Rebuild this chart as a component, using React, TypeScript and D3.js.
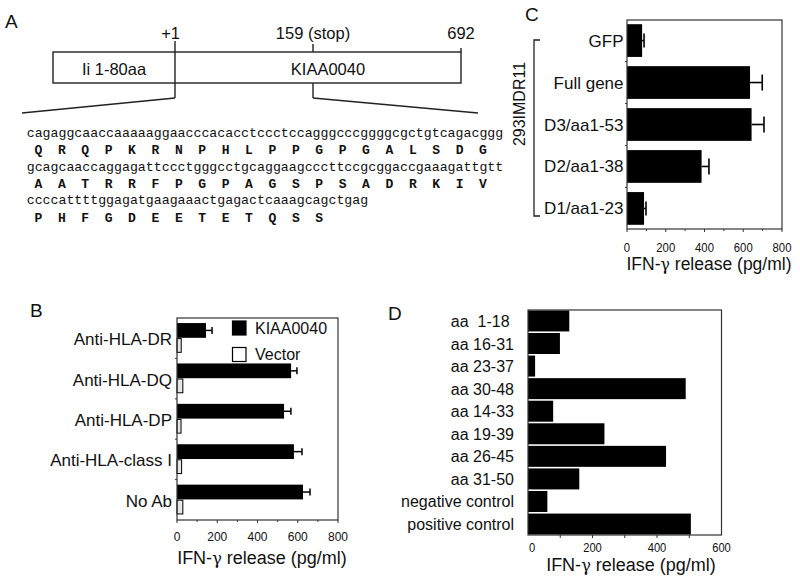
import React from "react";
import * as d3 from "d3";

const W = 800;
const H = 580;
const SANS = "'Liberation Sans', Arial, sans-serif";
const MONO = "'Liberation Mono', 'Courier New', monospace";

// ---------- Panel A data ----------
const schematicDomain = [-79, 1, 159, 692];
const schematicMarks = [
  { pos: 1, label: "+1" },
  { pos: 159, label: "159 (stop)" },
  { pos: 692, label: "692" },
];
const schematicSegments = [
  { from: -79, to: 1, label: "Ii 1-80aa" },
  { from: 1, to: 692, label: "KIAA0040" },
];
const dnaLines = [
  "cagaggcaaccaaaaaggaacccacacctccctccagggcccggggcgctgtcagacggg",
  "gcagcaaccaggagattccctgggcctgcaggaagcccttccgcggaccgaaagattgtt",
  "ccccattttggagatgaagaaactgagactcaaagcagctgag",
];
const aaLines = [
  ["Q", "R", "Q", "P", "K", "R", "N", "P", "H", "L", "P", "P", "G", "P", "G", "A", "L", "S", "D", "G"],
  ["A", "A", "T", "R", "R", "F", "P", "G", "P", "A", "G", "S", "P", "S", "A", "D", "R", "K", "I", "V"],
  ["P", "H", "F", "G", "D", "E", "E", "T", "E", "T", "Q", "S", "S"],
];

// ---------- Panel B data ----------
const bCategories = ["Anti-HLA-DR", "Anti-HLA-DQ", "Anti-HLA-DP", "Anti-HLA-class I", "No Ab"];
const bSeries = ["KIAA0040", "Vector"];
const bKIAA = [144, 567, 532, 581, 626];
const bKIAAErr = [30, 29, 34, 40, 35];
const bVector = [21, 29, 20, 23, 29];
const bTicks = [0, 200, 400, 600, 800];
const bMinorTicks = [0, 100, 200, 300, 400, 500, 600, 700, 800];

// ---------- Panel C data ----------
const cCategories = ["GFP", "Full gene", "D3/aa1-53", "D2/aa1-38", "D1/aa1-23"];
const cValues = [78, 635, 643, 385, 88];
const cErr = [10, 63, 64, 38, 10];
const cTicks = [0, 200, 400, 600, 800];
const cMinorTicks = [0, 100, 200, 300, 400, 500, 600, 700, 800];
const cGroupLabel = "293IMDR11";

// ---------- Panel D data ----------
const dCategories = [
  "aa  1-18 ",
  "aa 16-31",
  "aa 23-37",
  "aa 30-48",
  "aa 14-33",
  "aa 19-39",
  "aa 26-45",
  "aa 31-50",
  "negative control",
  "positive control",
];
const dValues = [128, 99, 22, 489, 78, 237, 428, 159, 60, 505];
const dTicks = [0, 200, 400, 600];
const dMinorTicks = [100, 200, 300, 400, 500];

function AxisTitle({ x, y, size }: { x: number; y: number; size: number }) {
  return (
    <text x={x} y={y} fontSize={size} textAnchor="middle" fontFamily={SANS} fill="#111">
      IFN-<tspan fontFamily="'DejaVu Serif', serif" fontSize={size * 0.9}>γ</tspan> release (pg/ml)
    </text>
  );
}

function PanelA() {
  const xs = d3.scaleLinear().domain(schematicDomain).range([53, 175, 313, 461]);
  const boxTop = 52;
  const boxBot = 83;
  const seqX0 = 26.7;
  const dnaSize = 13.24;
  const aaSize = 13.0;
  const aaAdv = aaSize * 0.6;
  const dnaBase = [136.5, 170.5, 204];
  const aaBase = [154, 188, 221.5];
  return (
    <g>
      <text x={5} y={28} fontSize={19} fontFamily={SANS} fill="#111">A</text>
      <rect x={xs(-79)} y={boxTop} width={xs(692) - xs(-79)} height={boxBot - boxTop} fill="none" stroke="#222" strokeWidth={1.4} />
      {schematicSegments.map((s) => (
        <text key={s.label} x={(xs(s.from) + xs(s.to)) / 2 + (s.from < 0 ? 0 : 10)} y={75} fontSize={16.5} textAnchor="middle" fontFamily={SANS} fill="#111">
          {s.label}
        </text>
      ))}
      <line x1={xs(1)} x2={xs(1)} y1={41} y2={98} stroke="#222" strokeWidth={1.4} />
      <line x1={xs(159)} x2={xs(159)} y1={44} y2={boxTop} stroke="#222" strokeWidth={1.4} />
      <line x1={xs(159)} x2={xs(159)} y1={boxBot} y2={98} stroke="#222" strokeWidth={1.4} />
      <line x1={xs(692)} x2={xs(692)} y1={48} y2={boxTop} stroke="#222" strokeWidth={1.4} />
      <line x1={xs(1)} y1={98} x2={22} y2={113} stroke="#222" strokeWidth={1.4} />
      <line x1={xs(159)} y1={98} x2={478} y2={113} stroke="#222" strokeWidth={1.4} />
      {schematicMarks.map((m) => (
        <text
          key={m.label}
          x={m.pos === 1 ? xs(m.pos) + 5 : xs(m.pos)}
          y={39}
          fontSize={16.5}
          textAnchor={m.pos === 1 ? "end" : "middle"}
          fontFamily={SANS}
          fill="#111"
        >
          {m.label}
        </text>
      ))}
      {dnaLines.map((line, i) => (
        <text key={"dna" + i} x={seqX0} y={dnaBase[i]} fontSize={dnaSize} fontFamily={MONO} fill="#111">
          {line}
        </text>
      ))}
      {aaLines.map((line, i) => (
        <g key={"aa" + i}>
          {line.map((aa, k) => (
            <text
              key={k}
              x={seqX0 + (3 * k + 1.5) * aaAdv}
              y={aaBase[i]}
              fontSize={aaSize}
              fontWeight="bold"
              textAnchor="middle"
              fontFamily={MONO}
              fill="#111"
            >
              {aa}
            </text>
          ))}
        </g>
      ))}
    </g>
  );
}

function PanelB() {
  const x = d3.scaleLinear().domain([0, 800]).range([177, 338]);
  const y = d3.scaleBand<string>().domain(bCategories).range([318, 520]).paddingInner(0.25).paddingOuter(0.125);
  const sub = d3.scaleBand<string>().domain(bSeries).range([0, y.bandwidth()]).paddingInner(0.05);
  const top = 318;
  const bot = 520;
  const boundaries = bCategories.slice(1).map((c) => (y(c) as number) - (y.step() - y.bandwidth()) / 2);
  return (
    <g>
      <text x={30} y={317} fontSize={19} fontFamily={SANS} fill="#111">B</text>
      {bCategories.map((c, i) => {
        const y0 = y(c) as number;
        const yk = y0 + (sub("KIAA0040") as number);
        const yv = y0 + (sub("Vector") as number);
        const bh = sub.bandwidth();
        const ey = yk + bh / 2;
        return (
          <g key={c}>
            <rect x={x(0)} y={yk} width={x(bKIAA[i]) - x(0)} height={bh} fill="#000" />
            <line x1={x(bKIAA[i])} x2={x(bKIAA[i] + bKIAAErr[i])} y1={ey} y2={ey} stroke="#000" strokeWidth={1.5} />
            <line x1={x(bKIAA[i] + bKIAAErr[i])} x2={x(bKIAA[i] + bKIAAErr[i])} y1={ey - 3.5} y2={ey + 3.5} stroke="#000" strokeWidth={1.5} />
            <rect x={x(0)} y={yv} width={x(bVector[i]) - x(0)} height={bh - 1} fill="#e6e6e6" stroke="#000" strokeWidth={1} />
            <text x={172} y={y0 + y.bandwidth() / 2 + 7} fontSize={17} textAnchor="end" fontFamily={SANS} fill="#111">
              {c}
            </text>
          </g>
        );
      })}
      <rect x={x(0)} y={top} width={x(800) - x(0)} height={bot - top} fill="none" stroke="#333" strokeWidth={1.2} />
      {boundaries.map((b, i) => (
        <line key={i} x1={x(0) - 2} x2={x(0)} y1={b} y2={b} stroke="#333" strokeWidth={1} />
      ))}
      {bMinorTicks.map((t) => (
        <line key={t} x1={x(t)} x2={x(t)} y1={bot} y2={bot + (t % 200 === 0 ? 3 : 2)} stroke="#333" strokeWidth={1} />
      ))}
      {bTicks.map((t) => (
        <text key={t} x={x(t)} y={541} fontSize={12} textAnchor="middle" fontFamily={SANS} fill="#111">
          {t}
        </text>
      ))}
      <AxisTitle x={262} y={564} size={18} />
      {bSeries.map((s, i) => (
        <g key={s}>
          <rect x={232.5} y={321 + i * 26.5} width={13.5} height={14} fill={i === 0 ? "#000" : "#fff"} stroke="#000" strokeWidth={1.2} />
          <text x={255} y={333.5 + i * 26.5} fontSize={16} fontFamily={SANS} fill="#111">
            {s}
          </text>
        </g>
      ))}
    </g>
  );
}

function PanelC() {
  const x = d3.scaleLinear().domain([0, 800]).range([627, 782]);
  const top = 20;
  const bot = 229;
  const y = d3.scaleBand<string>().domain(cCategories).range([top, bot]).paddingInner(0.22).paddingOuter(0.1);
  const boundaries = cCategories.slice(1).map((c) => (y(c) as number) - (y.step() - y.bandwidth()) / 2);
  return (
    <g>
      <text x={525} y={21} fontSize={19} fontFamily={SANS} fill="#111">C</text>
      {cCategories.map((c, i) => {
        const y0 = y(c) as number;
        const bh = y.bandwidth();
        const ey = y0 + bh / 2;
        const capH = c === "GFP" || c === "D1/aa1-23" ? 14 : 16;
        return (
          <g key={c}>
            <line x1={x(cValues[i])} x2={x(cValues[i] + cErr[i])} y1={ey} y2={ey} stroke="#000" strokeWidth={1.6} />
            <line x1={x(cValues[i] + cErr[i])} x2={x(cValues[i] + cErr[i])} y1={ey - capH / 2} y2={ey + capH / 2} stroke="#000" strokeWidth={1.6} />
            <rect x={x(0)} y={y0} width={x(cValues[i]) - x(0)} height={bh} fill="#000" />
            <text x={623.5} y={ey + 6} fontSize={17} textAnchor="end" fontFamily={SANS} fill="#111">
              {c}
            </text>
          </g>
        );
      })}
      <rect x={x(0)} y={top} width={x(800) - x(0)} height={bot - top} fill="none" stroke="#333" strokeWidth={1.2} />
      {boundaries.map((b, i) => (
        <line key={i} x1={x(0) - 2} x2={x(0)} y1={b} y2={b} stroke="#333" strokeWidth={1} />
      ))}
      {cMinorTicks.map((t) => (
        <line key={t} x1={x(t)} x2={x(t)} y1={bot} y2={bot + (t % 200 === 0 ? 3 : 2)} stroke="#333" strokeWidth={1} />
      ))}
      {cTicks.map((t) => (
        <text
          key={t}
          x={x(t)}
          y={251.5}
          fontSize={13.5}
          textAnchor="middle"
          fontFamily={SANS}
          fill="#111"
          textLength={String(t).length * 6.3}
          lengthAdjust="spacingAndGlyphs"
        >
          {t}
        </text>
      ))}
      <AxisTitle x={709} y={270} size={17.5} />
      <path d="M540,40 H534 V216 H540" fill="none" stroke="#222" strokeWidth={1.3} />
      <text transform="translate(525,104) rotate(-90)" fontSize={16} textAnchor="middle" fontFamily={SANS} fill="#111">
        {cGroupLabel}
      </text>
    </g>
  );
}

function PanelD() {
  const x = d3.scaleLinear().domain([0, 600]).range([528, 721.5]);
  const top = 310;
  const bot = 535;
  const y = d3.scaleBand<string>().domain(dCategories).range([top, bot]).paddingInner(0.07).paddingOuter(0.02);
  return (
    <g>
      <text x={388} y={320} fontSize={19} fontFamily={SANS} fill="#111">D</text>
      {dCategories.map((c, i) => {
        const y0 = y(c) as number;
        const bh = y.bandwidth();
        return (
          <g key={c}>
            <rect x={x(0)} y={y0} width={x(dValues[i]) - x(0)} height={bh} fill="#000" />
            <text x={514} y={y0 + bh / 2 + 6} fontSize={16} textAnchor="end" fontFamily={SANS} fill="#111" style={{ whiteSpace: "pre" }}>
              {c}
            </text>
          </g>
        );
      })}
      <rect x={x(0)} y={top} width={x(600) - x(0)} height={bot - top} fill="none" stroke="#333" strokeWidth={1.2} />
      {dMinorTicks.map((t) => (
        <line key={t} x1={x(t)} x2={x(t)} y1={bot} y2={bot + 3} stroke="#333" strokeWidth={1} />
      ))}
      {dTicks.map((t) => (
        <text
          key={t}
          x={x(t) + (t === 0 ? 4 : 0)}
          y={551.5}
          fontSize={13}
          textAnchor="middle"
          fontFamily={SANS}
          fill="#111"
          textLength={String(t).length * 6.2}
          lengthAdjust="spacingAndGlyphs"
        >
          {t}
        </text>
      ))}
      <AxisTitle x={631} y={571} size={18} />
    </g>
  );
}

export default function App() {
  return (
    <svg width={W} height={H} viewBox={`0 0 ${W} ${H}`} style={{ display: "block", position: "absolute", left: 0, top: 0, background: "#fff" }}>
      <rect x={0} y={0} width={W} height={H} fill="#fff" />
      <PanelA />
      <PanelB />
      <PanelC />
      <PanelD />
    </svg>
  );
}
